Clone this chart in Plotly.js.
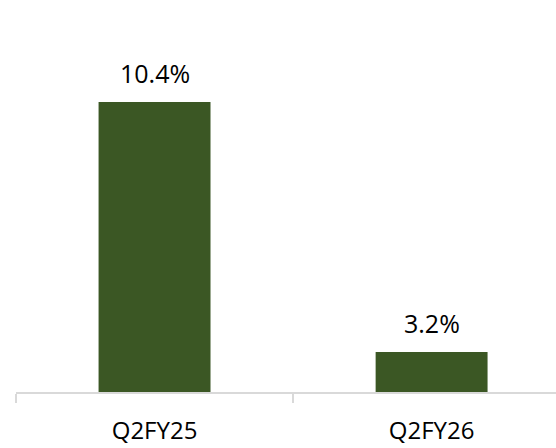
<!DOCTYPE html>
<html>
<head>
<meta charset="utf-8">
<script src="https://cdn.plot.ly/plotly-3.0.1.min.js"></script>
<style>
  html, body { margin: 0; padding: 0; background: #fff; }
  #chart { width: 556px; height: 448px; }
</style>
</head>
<body>
<div id="chart"></div>
<script>
// quarters and their values (%)
var quarters = ["Q2FY25", "Q2FY26"];
var values = [10.4, 3.2];
var labels = ["10.4%", "3.2%"];

var barColor = "#3b5724";

var trace = {
  x: quarters,
  y: values,
  type: "bar",
  width: 0.404,
  marker: { color: barColor },
  hoverinfo: "x+y"
};

// value labels above the bars
var notes = quarters.map(function (q, i) {
  return {
    x: q,
    y: values[i],
    text: labels[i],
    showarrow: false,
    yanchor: "bottom",
    yshift: 10,
    font: { family: "Open Sans", size: 25, color: "#000" }
  };
});

var layout = {
  width: 556,
  height: 448,
  margin: { l: 16, r: 0, t: 0, b: 56 },
  paper_bgcolor: "#fff",
  plot_bgcolor: "#fff",
  showlegend: false,
  annotations: notes,
  xaxis: {
    type: "category",
    range: [-0.5, 1.449],
    showline: true,
    linecolor: "#d9d9d9",
    linewidth: 2,
    ticks: "outside",
    tickson: "boundaries",
    ticklen: 9,
    tickwidth: 2,
    tickcolor: "#d9d9d9",
    showgrid: false,
    tickfont: { family: "Open Sans", size: 24, color: "#000" },
    ticklabelstandoff: 16
  },
  yaxis: {
    range: [2.05, 13.34],
    visible: false,
    showgrid: false,
    zeroline: false
  }
};

Plotly.newPlot("chart", [trace], layout, { displayModeBar: false, staticPlot: true });
</script>
</body>
</html>
